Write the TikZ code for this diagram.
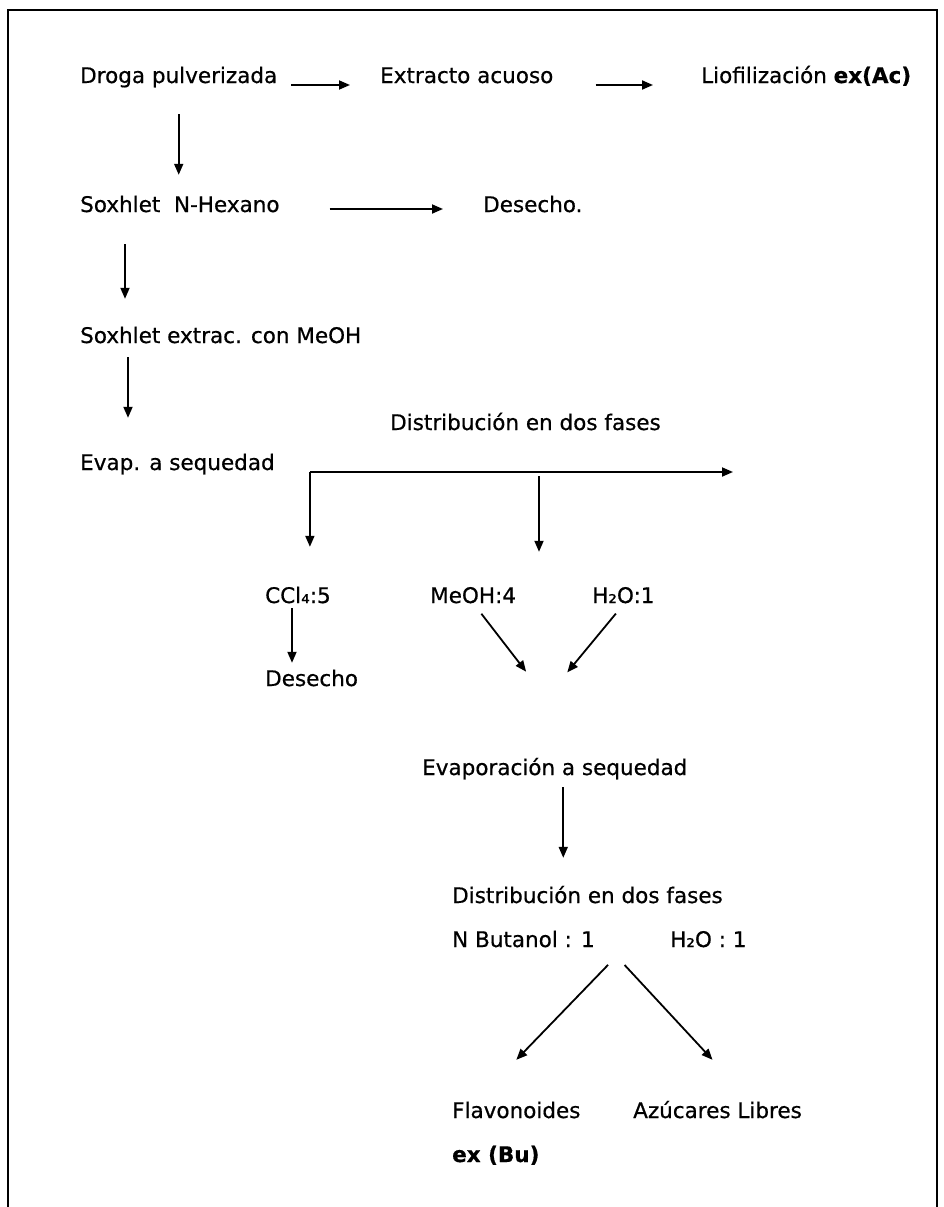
\documentclass[tikz,border=0pt]{standalone}
\usepackage{fontspec}
\setmainfont[FakeBold=0.6]{DejaVu Sans}
\usetikzlibrary{arrows.meta}

\tikzset{
  paso/.style={anchor=base west, inner sep=0pt, text height=16pt, text depth=5pt,
    font=\fontsize{21.5}{26}\selectfont},
  flecha/.style={-{Triangle[length=11pt,width=9pt]}, line width=1.8pt},
  marco/.style={line width=2.8pt}
}

\begin{document}
\begin{tikzpicture}[x=1pt, y=-1pt]
\useasboundingbox (0,0) rectangle (944,1207);
\draw[marco] (8,1207) -- (8,10) -- (937,10) -- (937,1207);

\begin{scope}[every node/.style={paso}]
\node (droga) at (80,83) {Droga pulverizada};
\node (extracto) at (380,83) {Extracto acuoso};
\node (liof) at (701,83) {Liofilización \textbf{ex(Ac)}};
\node (soxhex) at (80,212) {Soxhlet\ \ N-Hexano};
\node (desa) at (483,212) {Desecho.};
\node (soxext) at (80,343) {Soxhlet extrac. con MeOH};
\node (dist) at (390,430) {Distribución en dos fases};
\node (evap) at (80,470) {Evap. a sequedad};
\node (ccl) at (265,603) {CCl₄:5};
\node (meoh) at (430,603) {MeOH:4};
\node (h2oa) at (592,603) {H₂O:1};
\node (desb) at (265,686) {Desecho};
\node (evapo) at (422,775) {Evaporación a sequedad};
\node (dist2) at (452,903) {Distribución en dos fases};
\node (nbut) at (452,947) {N Butanol : 1};
\node (h2ob) at (670,947) {H₂O : 1};
\node (flav) at (452,1118) {Flavonoides};
\node (azu) at (633,1118) {Azúcares Libres};
\node (exbu) at (452,1162) {\textbf{ex (Bu)}};
\end{scope}

\coordinate (split) at ([xshift=35pt,yshift=-2pt]evap.base east);
\coordinate (fasesend) at (733,472);
\coordinate (medio) at (539,472);
\coordinate (junta) at ([xshift=-8.5pt,yshift=61pt]evapo.north);
\coordinate (reparto) at ([xshift=21.5pt,yshift=-4pt]nbut.south east);
\coordinate (flavtip) at ([yshift=42pt]flav.north);
\coordinate (azutip) at ([xshift=-5pt,yshift=42pt]azu.north);

\draw[flecha, shorten <=14pt, shorten >=30pt] ([yshift=-2pt]droga.base east) -- ([yshift=-2pt]extracto.base west);
\draw[flecha, shorten <=42pt, shorten >=48pt] ([yshift=-2pt]extracto.base east) -- ([yshift=-2pt]liof.base west);
\draw[flecha, shorten <=26pt, shorten >=21pt] (droga.south) -- (droga.south |- soxhex.north);
\draw[flecha, shorten <=50pt, shorten >=40pt] ([yshift=3pt]soxhex.base east) -- ([yshift=3pt]desa.base west);
\draw[flecha, shorten <=27pt, shorten >=28pt] ([xshift=45pt]soxhex.south west) -- ([xshift=45pt]soxhex.south west |- soxext.north);
\draw[flecha, shorten <=9pt, shorten >=36pt] ([xshift=48pt]soxext.south west) -- ([xshift=48pt]soxext.south west |- evap.north);

\draw[flecha] (split) -- (fasesend);
\draw[flecha, shorten >=40pt] (split) -- (split |- ccl.north);
\draw[flecha, shorten <=4pt, shorten >=35pt] (medio) -- (medio |- meoh.north);
\draw[flecha, shorten >=7pt] ([xshift=27pt]ccl.south west) -- ([xshift=27pt]ccl.south west |- desb.north);
\draw[flecha, shorten <=7pt, shorten >=33pt] ([xshift=4pt]meoh.south) -- (junta);
\draw[flecha, shorten <=7pt, shorten >=33pt] ([xshift=-3pt]h2oa.south) -- (junta);

\draw[flecha, shorten <=7pt, shorten >=29pt] ([xshift=8.5pt]evapo.south) -- ([xshift=8.5pt]evapo.south |- dist2.north);
\draw[flecha, shorten <=12pt] (reparto) -- (flavtip);
\draw[flecha, shorten <=12pt] (reparto) -- (azutip);
\end{tikzpicture}
\end{document}
